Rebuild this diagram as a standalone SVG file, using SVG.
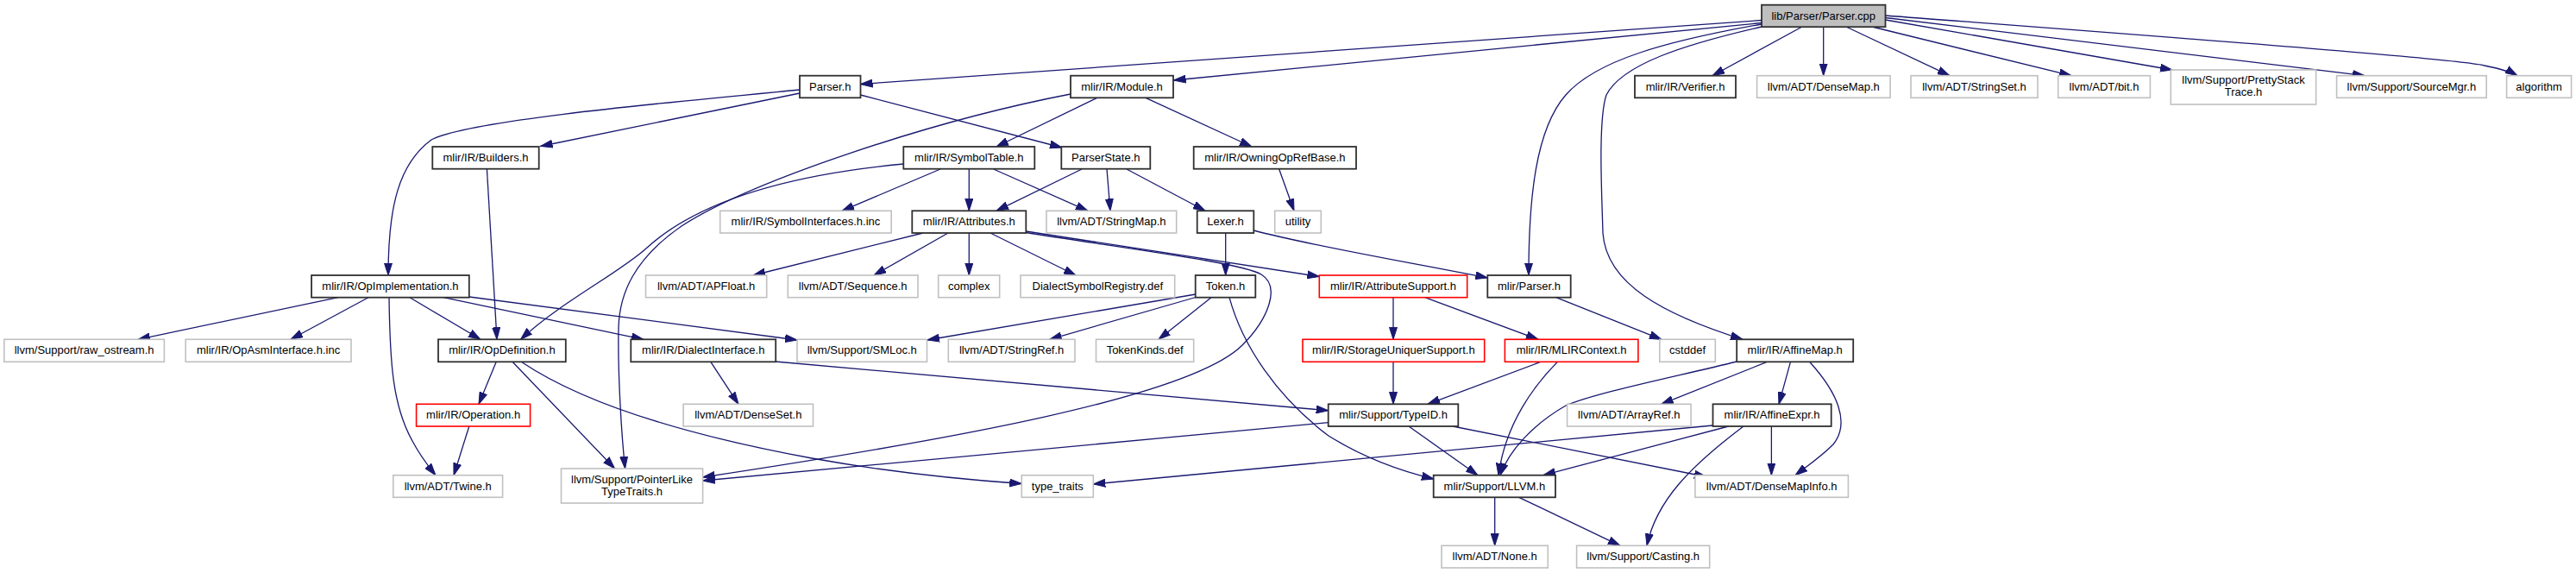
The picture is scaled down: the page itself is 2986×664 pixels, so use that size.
<svg xmlns="http://www.w3.org/2000/svg" width="2986" height="664" viewBox="0 0 2986 664">
<style>
rect.n{fill:#fff;stroke:#303030;stroke-width:1.8}
rect.g{fill:#fff;stroke:#c0c0c0;stroke-width:1.6}
rect.r{fill:#fff;stroke:#ff0000;stroke-width:1.6}
rect.t{fill:#bfbfbf;stroke:#303030;stroke-width:1.8}
text{font-family:"Liberation Sans",Arial,Helvetica,sans-serif;font-size:13px;fill:#000;text-anchor:middle}
#edges path{fill:none;stroke:#191970;stroke-width:1.3;marker-end:url(#arr)}
</style>
<defs>
<marker id="arr" markerUnits="userSpaceOnUse" markerWidth="15" markerHeight="10" refX="14" refY="5" orient="auto">
<path d="M0,0.5 L14,5 L0,9.5 z" fill="#191970" stroke="#191970" stroke-width="1"/>
</marker>
</defs>
<rect x="0" y="0" width="2986" height="664" fill="#fff"/>
<g id="edges">
<path d="M2042,23.5 L997.5,97.5"/>
<path d="M2042,26.5 L1360.5,93"/>
<path d="M2042,28 C1930,48 1850,70 1815,110 C1780,150 1772,230 1772,319"/>
<path d="M2042,31 C1950,52 1880,75 1862,110 C1852,140 1857,230 1858,270 C1862,330 1930,365 2020,393.3"/>
<path d="M2088,31.5 L1985,87.7"/>
<path d="M2113.7,31.5 L2113.7,87.7"/>
<path d="M2141,31.5 L2260,87.7"/>
<path d="M2172,31.5 L2401,87.7"/>
<path d="M2185.5,23 L2518,81"/>
<path d="M2185.5,20.5 L2741,87.7"/>
<path d="M2185.5,18 C2500,42 2850,68 2880,76 C2900,80 2910,83 2918,87.7"/>
<path d="M927,104 C760,120 540,140 500,162 C462,190 450,240 450,319"/>
<path d="M927,108 L626.5,169.5"/>
<path d="M997.5,110 L1231,171"/>
<path d="M1271.7,113.3 L1155,170"/>
<path d="M1328,113.3 L1451,170"/>
<path d="M1241,109 C1080,140 870,210 790,262 C735,300 718,340 717,380 C716,430 720,500 724.6,543"/>
<path d="M1090,196 L976,244.3"/>
<path d="M1123.3,196 L1123.3,244.3"/>
<path d="M1151.7,196 L1261,244.3"/>
<path d="M1047.3,190 C930,201 815,228 750,287 C720,315 650,350 603.5,393.3"/>
<path d="M1254,196 L1155,244.3"/>
<path d="M1283,196 L1287,244.3"/>
<path d="M1306,196 L1397,244.3"/>
<path d="M1482.7,196 L1500,244.3"/>
<path d="M1420.7,270 L1420.7,319"/>
<path d="M1453.3,267 C1520,285 1640,305 1724.3,322"/>
<path d="M1070,270 L873,319"/>
<path d="M1099,270 L1013,319"/>
<path d="M1123.3,270 L1123.3,319"/>
<path d="M1148,270 L1247,319"/>
<path d="M1189.3,268 L1529.3,320.5"/>
<path d="M1189.3,269.5 C1320,290 1440,305 1462,318 C1485,332 1470,370 1440,400 C1380,460 1100,510 814.6,553"/>
<path d="M1386,341 L1075,394"/>
<path d="M1386,344.5 L1216.7,393.3"/>
<path d="M1404,344.7 L1343,393.3"/>
<path d="M1425,344.7 C1440,400 1480,460 1540,505 C1580,530 1620,545 1662,555"/>
<path d="M392,344.7 L160,393.3"/>
<path d="M427,344.7 L337,393.3"/>
<path d="M475,344.7 L557,393.3"/>
<path d="M451,344.7 C452,420 455,470 478,511 C488,530 498,542 505,550.7"/>
<path d="M514,344.7 L746,393.3"/>
<path d="M544,344 L924,394"/>
<path d="M564.4,195.7 L576,393.3"/>
<path d="M575,419.7 L555,468.3"/>
<path d="M594.5,419.7 L712.6,543"/>
<path d="M605,419.7 C680,470 800,505 941,531 C1030,547 1120,556 1184.3,560.5"/>
<path d="M543.8,494 L526,550.7"/>
<path d="M824,419.7 L856,468.3"/>
<path d="M899,419 L1539.7,475.7"/>
<path d="M1615,344.7 L1615,393.3"/>
<path d="M1651.7,344.7 L1783,393.3"/>
<path d="M1803.7,344.7 L1926,393.3"/>
<path d="M1615,419.7 L1615,468.3"/>
<path d="M1785,419.7 L1655,468.3"/>
<path d="M1805,419.7 C1780,445 1745,490 1737,550.7"/>
<path d="M2013.2,419 C1940,437 1850,455 1815,470 C1780,490 1750,520 1739,550.7"/>
<path d="M2047.6,419.7 L1925.7,468.3"/>
<path d="M2075.4,419.7 L2062,468.3"/>
<path d="M2098,419.7 C2130,455 2145,490 2125,515 C2110,530 2095,540 2081,550.7"/>
<path d="M1633,494 L1713,550.7"/>
<path d="M1684,494 L1978,552.5"/>
<path d="M1539.7,489.7 L814.6,557"/>
<path d="M2003.6,494 L1789,550.7"/>
<path d="M2021,494 C1960,540 1920,580 1909,632.3"/>
<path d="M2053.4,494 L2053.4,550.7"/>
<path d="M1985.5,493 L1267.3,561"/>
<path d="M1732.7,576.3 L1732.7,632.3"/>
<path d="M1760.7,576.3 L1878,632.3"/>
</g>
<g id="n_parser_cpp"><rect class="t" x="2042" y="5.7" width="143.5" height="25.5"/><text x="2113.75" y="22.5">lib/Parser/Parser.cpp</text></g>
<g id="n_parser_h"><rect class="n" x="927" y="87.7" width="70.5" height="25.6"/><text x="962.25" y="104.5">Parser.h</text></g>
<g id="n_module"><rect class="n" x="1241" y="87.7" width="119" height="25.6"/><text x="1300.5" y="104.5">mlir/IR/Module.h</text></g>
<g id="n_verifier"><rect class="n" x="1895" y="87.7" width="117" height="25.6"/><text x="1953.5" y="104.5">mlir/IR/Verifier.h</text></g>
<g id="n_densemap"><rect class="g" x="2036.6" y="87.7" width="154.5" height="25.6"/><text x="2113.85" y="104.5">llvm/ADT/DenseMap.h</text></g>
<g id="n_stringset"><rect class="g" x="2215" y="87.7" width="147" height="25.6"/><text x="2288.5" y="104.5">llvm/ADT/StringSet.h</text></g>
<g id="n_bit"><rect class="g" x="2385.7" y="87.7" width="106.7" height="25.6"/><text x="2439" y="104.5">llvm/ADT/bit.h</text></g>
<g id="n_prettystack"><rect class="g" x="2516.3" y="81" width="168.3" height="40"/><text x="2600.5" y="97.2">llvm/Support/PrettyStack</text><text x="2600.5" y="111">Trace.h</text></g>
<g id="n_sourcemgr"><rect class="g" x="2708.6" y="87.7" width="173.6" height="25.6"/><text x="2795.4" y="104.5">llvm/Support/SourceMgr.h</text></g>
<g id="n_algorithm"><rect class="g" x="2905.6" y="87.7" width="75" height="25.6"/><text x="2943.1" y="104.5">algorithm</text></g>
<g id="n_builders"><rect class="n" x="501.3" y="170" width="123.4" height="25.7"/><text x="563" y="186.9">mlir/IR/Builders.h</text></g>
<g id="n_symboltable"><rect class="n" x="1047.3" y="170" width="152" height="25.7"/><text x="1123.3" y="186.9">mlir/IR/SymbolTable.h</text></g>
<g id="n_parserstate"><rect class="n" x="1230.3" y="170" width="103" height="25.7"/><text x="1281.8" y="186.9">ParserState.h</text></g>
<g id="n_owningop"><rect class="n" x="1383.7" y="170" width="188.3" height="25.7"/><text x="1477.85" y="186.9">mlir/IR/OwningOpRefBase.h</text></g>
<g id="n_symbolinterfaces"><rect class="g" x="834.7" y="244.3" width="198.5" height="25.7"/><text x="933.95" y="261.2">mlir/IR/SymbolInterfaces.h.inc</text></g>
<g id="n_attributes"><rect class="n" x="1057.3" y="244.3" width="132" height="25.7"/><text x="1123.3" y="261.2">mlir/IR/Attributes.h</text></g>
<g id="n_stringmap"><rect class="g" x="1213" y="244.3" width="150.7" height="25.7"/><text x="1288.35" y="261.2">llvm/ADT/StringMap.h</text></g>
<g id="n_lexer"><rect class="n" x="1387.7" y="244.3" width="65.6" height="25.7"/><text x="1420.5" y="261.2">Lexer.h</text></g>
<g id="n_utility"><rect class="g" x="1477.7" y="244.3" width="53.6" height="25.7"/><text x="1504.5" y="261.2">utility</text></g>
<g id="n_opimpl"><rect class="n" x="361.1" y="319" width="182.7" height="25.7"/><text x="452.45" y="335.9">mlir/IR/OpImplementation.h</text></g>
<g id="n_apfloat"><rect class="g" x="748.5" y="319" width="140.2" height="25.7"/><text x="818.6" y="335.9">llvm/ADT/APFloat.h</text></g>
<g id="n_sequence"><rect class="g" x="913.3" y="319" width="150.7" height="25.7"/><text x="988.65" y="335.9">llvm/ADT/Sequence.h</text></g>
<g id="n_complex"><rect class="g" x="1087.7" y="319" width="71" height="25.7"/><text x="1123.2" y="335.9">complex</text></g>
<g id="n_dialectsymreg"><rect class="g" x="1183" y="319" width="178.7" height="25.7"/><text x="1272.35" y="335.9">DialectSymbolRegistry.def</text></g>
<g id="n_token"><rect class="n" x="1385.7" y="319" width="69.6" height="25.7"/><text x="1420.5" y="335.9">Token.h</text></g>
<g id="n_attrsupport"><rect class="r" x="1529.3" y="319" width="171.4" height="25.7"/><text x="1615" y="335.9">mlir/IR/AttributeSupport.h</text></g>
<g id="n_mlirparser"><rect class="n" x="1724.3" y="319" width="96.4" height="25.7"/><text x="1772.5" y="335.9">mlir/Parser.h</text></g>
<g id="n_rawostream"><rect class="g" x="4.8" y="393.3" width="185.6" height="26"/><text x="97.6" y="410.3">llvm/Support/raw_ostream.h</text></g>
<g id="n_opasm"><rect class="g" x="215.2" y="393.3" width="191.8" height="26"/><text x="311.1" y="410.3">mlir/IR/OpAsmInterface.h.inc</text></g>
<g id="n_opdef"><rect class="n" x="508" y="393.3" width="147.8" height="26"/><text x="581.9" y="410.3">mlir/IR/OpDefinition.h</text></g>
<g id="n_dialectiface"><rect class="n" x="731.3" y="393.3" width="167.9" height="26"/><text x="815.25" y="410.3">mlir/IR/DialectInterface.h</text></g>
<g id="n_smloc"><rect class="g" x="924" y="393.3" width="150.5" height="26"/><text x="999.25" y="410.3">llvm/Support/SMLoc.h</text></g>
<g id="n_stringref"><rect class="g" x="1099.3" y="393.3" width="146.7" height="26"/><text x="1172.65" y="410.3">llvm/ADT/StringRef.h</text></g>
<g id="n_tokenkinds"><rect class="g" x="1270.5" y="393.3" width="113.2" height="26"/><text x="1327.1" y="410.3">TokenKinds.def</text></g>
<g id="n_storageuniq"><rect class="r" x="1510" y="393.3" width="210.7" height="26"/><text x="1615.35" y="410.3">mlir/IR/StorageUniquerSupport.h</text></g>
<g id="n_mlircontext"><rect class="r" x="1744.4" y="393.3" width="154.5" height="26"/><text x="1821.65" y="410.3">mlir/IR/MLIRContext.h</text></g>
<g id="n_cstddef"><rect class="g" x="1923.8" y="393.3" width="64.5" height="26"/><text x="1956.05" y="410.3">cstddef</text></g>
<g id="n_affinemap"><rect class="n" x="2013.2" y="393.3" width="135" height="26"/><text x="2080.7" y="410.3">mlir/IR/AffineMap.h</text></g>
<g id="n_operation"><rect class="r" x="482.6" y="468.3" width="132" height="25.7"/><text x="548.6" y="485.2">mlir/IR/Operation.h</text></g>
<g id="n_denseset"><rect class="g" x="792.1" y="468.3" width="150.4" height="25.7"/><text x="867.3" y="485.2">llvm/ADT/DenseSet.h</text></g>
<g id="n_typeid"><rect class="n" x="1539.7" y="468.3" width="150.6" height="25.7"/><text x="1615" y="485.2">mlir/Support/TypeID.h</text></g>
<g id="n_arrayref"><rect class="g" x="1816.6" y="468.3" width="143.5" height="25.7"/><text x="1888.35" y="485.2">llvm/ADT/ArrayRef.h</text></g>
<g id="n_affineexpr"><rect class="n" x="1985.5" y="468.3" width="137.2" height="25.7"/><text x="2054.1" y="485.2">mlir/IR/AffineExpr.h</text></g>
<g id="n_twine"><rect class="g" x="455.8" y="550.7" width="126.8" height="25.6"/><text x="519.2" y="567.5">llvm/ADT/Twine.h</text></g>
<g id="n_pointerlike"><rect class="g" x="650.5" y="543" width="164.1" height="40"/><text x="732.55" y="559.5">llvm/Support/PointerLike</text><text x="732.55" y="573.5">TypeTraits.h</text></g>
<g id="n_typetraits"><rect class="g" x="1184.3" y="550.7" width="83" height="25.6"/><text x="1225.8" y="567.5">type_traits</text></g>
<g id="n_llvm"><rect class="n" x="1661.7" y="550.7" width="141.3" height="25.6"/><text x="1732.35" y="567.5">mlir/Support/LLVM.h</text></g>
<g id="n_densemapinfo"><rect class="g" x="1964.9" y="550.7" width="177.5" height="25.6"/><text x="2053.65" y="567.5">llvm/ADT/DenseMapInfo.h</text></g>
<g id="n_none"><rect class="g" x="1671" y="632.3" width="123.3" height="25.7"/><text x="1732.65" y="649.2">llvm/ADT/None.h</text></g>
<g id="n_casting"><rect class="g" x="1827.6" y="632.3" width="154.1" height="25.7"/><text x="1904.65" y="649.2">llvm/Support/Casting.h</text></g>
</svg>
